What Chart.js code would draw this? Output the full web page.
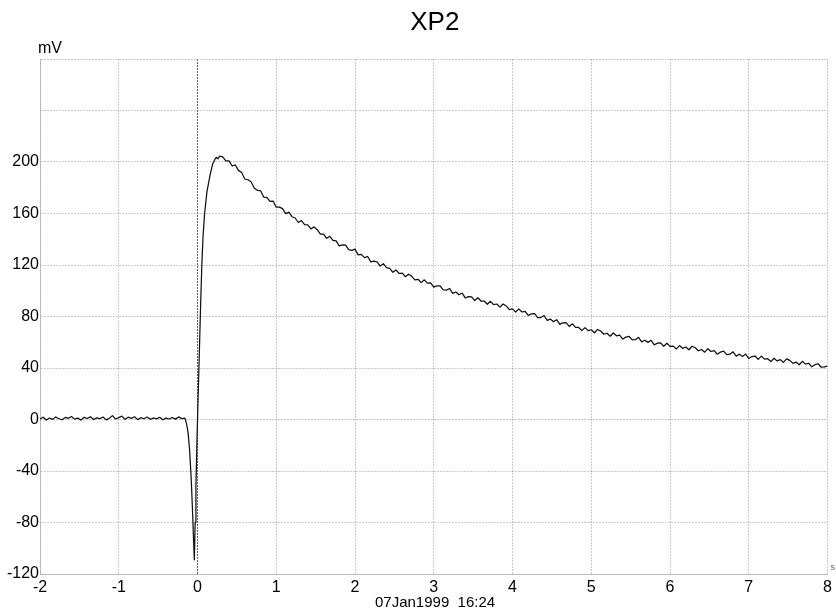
<!DOCTYPE html>
<html>
<head>
<meta charset="utf-8">
<script src="https://cdn.jsdelivr.net/npm/chart.js@4.4.1/dist/chart.umd.min.js"></script>
<style>
  html, body { margin: 0; padding: 0; background: #fff; }
  #wrap { width: 836px; height: 612px; position: relative; }
</style>
</head>
<body>
<div id="wrap"><canvas id="c" width="836" height="612"></canvas></div>
<script>
// XP2 recording: membrane potential (mV) against time (s)
const chartTitle = 'XP2';
const yUnit = 'mV';
const xUnit = 's';
const stampText = '07Jan1999  16:24';

const sampleStep = 0.04;          // s between stored samples

// resting trace before the stimulus, samples from -2.00 s
const baselineStart = -2.0;
const baselineValues = [
  0.5, 1.8, -0.4, 1.2, 0.1, 2.0, 0.6, -0.2, 1.6, 0.9,
  2.4, 0.3, 1.1, -0.5, 1.7, 0.8, 2.2, 0.0, 1.3, 0.7,
  1.9, -0.3, 1.0, 3.0, 0.4, 1.5, 2.6, 0.2, 1.8, 0.9,
  2.1, -0.1, 1.4, 0.6, 1.9, 0.1, 1.2, 0.5, 1.7, -0.2,
  1.1, 0.4, 1.6, 0.3, 2.0, 0.7, 1.0
];

// stimulus artefact and fast rise (irregular sample times)
const spikeTimes = [-0.14, -0.12, -0.10, -0.08, -0.06, -0.05, -0.04, -0.03, -0.02, -0.01,
  0.00, 0.02, 0.04, 0.055, 0.07, 0.09, 0.12, 0.16, 0.19, 0.22, 0.24, 0.26, 0.28];
const spikeValues = [-3, -10, -24, -46, -76, -94, -109, -80, -52, -25,
  0, 45, 90, 120, 142, 160, 177, 190, 198, 202, 203.5, 202.5, 204.5];

// slow decay, samples from 0.32 s to 8.00 s
const decayStart = 0.32;
const decayValues = [
  204.0, 200.8, 200.9, 196.9, 197.7, 193.5, 191.9, 186.8, 186.2, 184.6,
  179.8, 178.0, 177.8, 172.8, 172.6, 169.4, 169.7, 164.9, 164.9, 163.8,
  159.9, 161.1, 157.5, 156.5, 153.0, 154.5, 151.3, 151.2, 148.0, 149.6,
  147.4, 144.0, 143.9, 140.7, 142.3, 139.1, 138.7, 134.8, 135.6, 135.4,
  131.9, 131.3, 132.3, 127.9, 128.3, 125.7, 126.6, 122.4, 123.0, 122.5,
  119.2, 121.0, 118.0, 117.4, 114.3, 116.2, 113.4, 113.7, 110.9, 112.9,
  111.2, 108.4, 108.9, 106.3, 108.5, 105.9, 106.1, 102.8, 103.8, 103.8,
  100.6, 100.4, 101.8, 98.0, 99.0, 96.9, 98.2, 94.4, 95.4, 95.3,
  92.4, 94.6, 92.0, 92.0, 89.5, 91.8, 89.2, 89.7, 87.3, 89.7,
  88.2, 85.4, 85.9, 83.5, 85.9, 83.5, 83.9, 80.8, 82.0, 82.2,
  79.2, 79.2, 80.8, 77.0, 78.0, 76.0, 77.5, 73.9, 75.1, 75.2,
  72.3, 74.3, 71.5, 71.5, 69.0, 71.4, 69.0, 69.7, 67.4, 69.9,
  68.7, 66.2, 67.0, 64.7, 67.2, 65.0, 65.5, 62.5, 64.0, 64.5,
  61.8, 62.0, 63.8, 60.3, 61.6, 59.9, 61.5, 58.0, 59.3, 59.5,
  56.9, 59.2, 56.8, 57.0, 54.8, 57.4, 55.3, 56.3, 54.2, 56.9,
  55.7, 53.4, 54.4, 52.3, 55.0, 52.8, 53.5, 50.7, 52.4, 53.1,
  50.4, 50.7, 52.6, 49.2, 50.7, 49.0, 50.8, 47.4, 48.9, 49.3,
  46.7, 49.2, 46.9, 47.2, 45.0, 47.6, 45.5, 46.5, 44.4, 47.1,
  45.9, 43.6, 44.6, 42.5, 45.2, 43.0, 43.7, 40.9, 42.6, 43.3,
  40.6, 40.9, 41.5
];

// axis ranges and tick spacing
const xRange = [-2, 8];
const xStep = 1;
const yRange = [-120, 280];
const yStep = 40;
const yLabelMax = 200;   // grid continues above, unlabeled

function sampled(start, values) {
  return values.map((v, i) => ({ x: +(start + i * sampleStep).toFixed(3), y: v }));
}

const trace = [].concat(
  sampled(baselineStart, baselineValues),
  spikeTimes.map((t, i) => ({ x: t, y: spikeValues[i] })),
  sampled(decayStart, decayValues)
);

const FONT = "'Liberation Sans', Arial, sans-serif";

const textPlugin = {
  id: 'labels',
  afterDraw(chart) {
    const ctx = chart.ctx;
    const a = chart.chartArea;
    ctx.save();
    ctx.fillStyle = '#000';
    ctx.textBaseline = 'alphabetic';
    ctx.font = '26px ' + FONT;
    ctx.textAlign = 'center';
    ctx.fillText(chartTitle, (a.left + a.right) / 2 + 1, 30);
    ctx.font = '16px ' + FONT;
    ctx.textAlign = 'left';
    ctx.fillText(yUnit, 38, 53);
    ctx.font = '15px ' + FONT;
    ctx.fillText(stampText, 375, 607);
    ctx.font = '9px ' + FONT;
    ctx.fillStyle = '#666';
    ctx.fillText(xUnit, a.right + 3, 570);
    ctx.restore();
  }
};

const gridGrey = 'rgba(160,160,160,0.55)';

new Chart(document.getElementById('c'), {
  type: 'line',
  data: {
    datasets: [{
      data: trace,
      borderColor: '#111',
      borderWidth: 1.25,
      pointRadius: 0,
      tension: 0,
      fill: false,
      borderJoinStyle: 'round'
    }]
  },
  options: {
    responsive: false,
    animation: false,
    devicePixelRatio: 1,
    layout: { padding: { top: 59, right: 6, left: 0, bottom: 0 } },
    plugins: {
      legend: { display: false },
      tooltip: { enabled: false },
      title: { display: false }
    },
    scales: {
      x: {
        type: 'linear',
        min: xRange[0],
        max: xRange[1],
        afterFit(s) { s.height = 38; },
        ticks: {
          stepSize: xStep,
          color: '#000',
          font: { family: FONT, size: 16 },
          padding: 4,
          maxRotation: 0,
          autoSkip: false
        },
        grid: {
          drawTicks: false,
          color: (c) => (c.tick && c.tick.value === 0 ? 'rgba(70,70,70,0.85)' : gridGrey),
          lineWidth: 1
        },
        border: { display: true, color: gridGrey, dash: [2, 1] }
      },
      y: {
        type: 'linear',
        min: yRange[0],
        max: yRange[1],
        afterFit(s) { s.width = 40; },
        ticks: {
          stepSize: yStep,
          color: '#000',
          font: { family: FONT, size: 16 },
          padding: 1,
          callback: (v) => (v <= yLabelMax ? String(v) : '')
        },
        grid: {
          drawTicks: false,
          color: gridGrey,
          lineWidth: 1
        },
        border: { display: true, color: gridGrey, dash: [2, 1] }
      }
    }
  },
  plugins: [textPlugin]
});
</script>
</body>
</html>
